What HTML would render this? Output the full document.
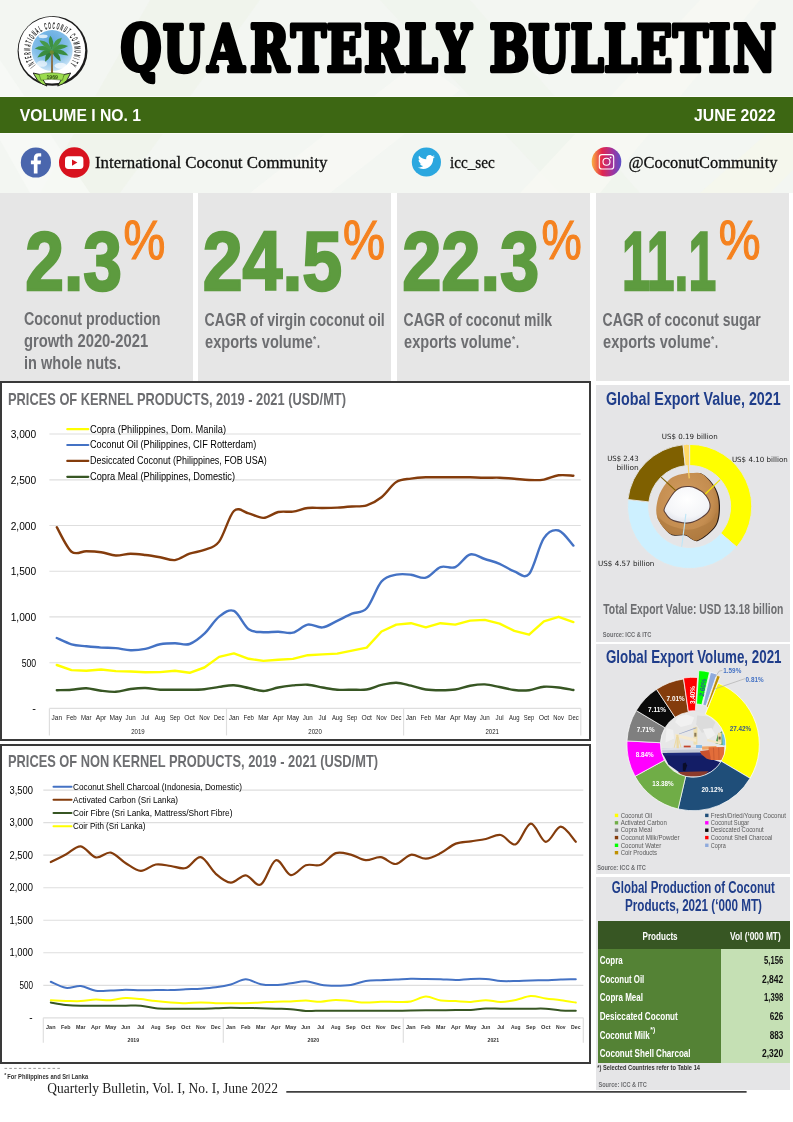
<!DOCTYPE html>
<html lang="en"><head><meta charset="utf-8"><title>Quarterly Bulletin</title>
<style>
html,body{margin:0;padding:0;background:#fff;}
body{width:793px;height:1122px;position:relative;overflow:hidden;font-family:'Liberation Sans', Arial, sans-serif;}
.abs{position:absolute;}
.panel{position:absolute;background:#e6e6e6;}
.chartbox{position:absolute;background:#fff;border:2px solid #3a3a3a;box-sizing:border-box;}
svg text{white-space:pre;}
</style></head><body>
<div class="abs" id="hdr" style="left:0;top:0;width:793px;height:193px;background:#f3f6f2;overflow:hidden"><svg width="793" height="193" viewBox="0 0 793 193" style="position:absolute;left:0;top:0"><polygon points="150,0 260,0 120,193 40,193" fill="#eaf1e3" opacity=".35"/><polygon points="380,0 470,0 640,193 560,193" fill="#eaf1e3" opacity=".3"/><polygon points="520,193 700,0 760,0 600,193" fill="#f7f9f3" opacity=".8"/><polygon points="0,60 90,193 30,193 0,140" fill="#f8faf6" opacity=".8"/><polygon points="250,193 420,60 460,90 330,193" fill="#f8faf5" opacity=".7"/><polygon points="700,193 793,110 793,170 770,193" fill="#f6f9e9" opacity=".6"/></svg></div><svg width="90" height="86" viewBox="10 10 90 86" style="position:absolute;left:10px;top:10px;overflow:visible" ><g transform="translate(12,12) scale(0.10340)"><circle cx="392" cy="376" r="338" fill="#1c1c1c"/><circle cx="386" cy="369" r="322" fill="#fff"/><defs><radialGradient id="sky" cx="0.45" cy="0.3" r="0.8"><stop offset="0" stop-color="#5ea6de"/><stop offset="0.55" stop-color="#86c0ea"/><stop offset="1" stop-color="#e4f1fa"/></radialGradient></defs><circle cx="388" cy="373" r="198" fill="url(#sky)"/><ellipse cx="300" cy="235" rx="45" ry="18" fill="#fff" opacity=".75"/><ellipse cx="470" cy="520" rx="60" ry="28" fill="#fff" opacity=".7"/><ellipse cx="290" cy="500" rx="50" ry="30" fill="#fff" opacity=".6"/><path d="M377,590 L380,400 L394,400 L397,590Z" fill="#8a6a3a"/><path d="M385,372 Q313,382 320,482 Q392,428 385,372Z" fill="#2f7d3a"/><path d="M385,372 Q392,431 470,476 Q463,373 385,372Z" fill="#2f7d3a"/><path d="M385,372 Q296,344 245,440 Q334,424 385,372Z" fill="#3a8c40"/><path d="M385,372 Q452,416 545,420 Q478,332 385,372Z" fill="#3a8c40"/><path d="M385,372 Q308,296 220,352 Q297,384 385,372Z" fill="#3f9444"/><path d="M385,372 Q475,372 542,330 Q452,286 385,372Z" fill="#3f9444"/><path d="M385,372 Q353,267 265,275 Q297,336 385,372Z" fill="#46994a"/><path d="M385,372 Q470,318 482,250 Q397,260 385,372Z" fill="#46994a"/><path d="M385,372 Q419,275 370,230 Q336,283 385,372Z" fill="#3c8f42"/><circle cx="385" cy="390" r="20" fill="#6e8a2f"/><path d="M205,590 L268,604 L338,716 Q285,700 248,662Z" fill="#9bdc4e" stroke="#1c1c1c" stroke-width="9" stroke-linejoin="round"/><path d="M567,590 L505,604 L442,716 Q495,700 530,662Z" fill="#9bdc4e" stroke="#1c1c1c" stroke-width="9" stroke-linejoin="round"/><path d="M262,603 Q385,572 505,603 L488,660 Q385,640 280,660Z" fill="#9bdc4e" stroke="#3d5c1c" stroke-width="5"/></g><defs><path id="ringp" d="M35.67,64.99 A22.0,22.0 0 1 1 69.13,64.99"/></defs><text font-family="'Liberation Sans', Arial, sans-serif" font-size="9.4" font-weight="bold" fill="#222" letter-spacing="2.6"><textPath href="#ringp" startOffset="0" textLength="99" lengthAdjust="spacingAndGlyphs">INTERNATIONAL COCONUT COMMUNITY</textPath></text><text x="52.2" y="78.7" font-family="'Liberation Sans', Arial, sans-serif" font-size="5.8" font-weight="bold" fill="#2f4a14" text-anchor="middle" textLength="11.5" lengthAdjust="spacingAndGlyphs" >1969</text></svg><svg width="683" height="80" viewBox="110 10 683 80" style="position:absolute;left:110px;top:10px;overflow:visible" ><text transform="scale(0.74,1)" x="190.5 248.0 305.4 364.2 416.9 465.5 518.2 568.9 614.2" y="70.7" font-family="'DejaVu Serif', 'Liberation Serif', serif" font-size="63.6" font-weight="bold" fill="#000" stroke="#000" stroke-width="4.6" stroke-linejoin="round" text-anchor="middle">QUARTERLY</text><text transform="scale(0.74,1)" x="688.5 741.9 793.2 838.5 884.5 933.1 972.3 1019.6" y="70.7" font-family="'DejaVu Serif', 'Liberation Serif', serif" font-size="63.6" font-weight="bold" fill="#000" stroke="#000" stroke-width="4.6" stroke-linejoin="round" text-anchor="middle">BULLETIN</text></svg><div class="abs" style="left:0;top:96px;width:793px;height:38px;background:#fbfcfa"></div><div class="abs" style="left:0;top:97px;width:793px;height:36px;background:#3d6713"></div><svg width="793" height="36" viewBox="0 97 793 36" style="position:absolute;left:0px;top:97px;overflow:visible" ><text x="19.7" y="120.6" font-family="'Liberation Sans', Arial, sans-serif" font-size="15.8" font-weight="bold" fill="#fff" text-anchor="start" textLength="121.3" lengthAdjust="spacingAndGlyphs" >VOLUME I NO. 1</text><text x="694.1" y="120.6" font-family="'Liberation Sans', Arial, sans-serif" font-size="15.8" font-weight="bold" fill="#fff" text-anchor="start" textLength="81.5" lengthAdjust="spacingAndGlyphs" >JUNE 2022</text></svg><svg width="793" height="60" viewBox="0 133 793 60" style="position:absolute;left:0px;top:133px;overflow:visible" ><circle cx="35.9" cy="162.5" r="15.1" fill="#4a66ad"/><path transform="translate(36.6,163.4) scale(0.92) translate(-36.6,-163.4)" d="M37.6,174.5 v-10.3 h3.3 l0.5,-3.9 h-3.8 v-2.4 c0,-1.2 0.4,-1.9 2,-1.9 h2 v-3.4 c-0.4,-0.05 -1.6,-0.15 -3,-0.15 c-3,0 -5,1.8 -5,5.1 v2.75 h-3.2 v3.9 h3.2 v10.3 z" fill="#fff"/><circle cx="74.3" cy="162.5" r="15.3" fill="#d8121e"/><rect x="65" y="156.3" width="18.4" height="12.7" rx="3.4" fill="#fff"/><path d="M72,159.4 L77.4,162.6 L72,165.8Z" fill="#d8121e"/><text x="94.9" y="168.4" font-family="'Liberation Serif', 'Times New Roman', serif" font-size="16.5" font-weight="normal" fill="#111" text-anchor="start" textLength="232.5" lengthAdjust="spacingAndGlyphs" stroke="#111" stroke-width="0.3">International Coconut Community</text><circle cx="426.4" cy="162" r="14.6" fill="#2ba7df"/><path transform="translate(417.9,154.6) scale(0.72)" d="M23.6,2.9c-0.9,0.4-1.8,0.7-2.8,0.8c1-0.6,1.8-1.6,2.1-2.7c-0.9,0.6-2,1-3.1,1.2C19,1.2,17.700,0.600,16.300,0.600c-2.700,0-4.800,2.200-4.800,4.800c0,0.400,0,0.800,0.100,1.100C7.600,6.300,4.100,4.400,1.700,1.500C1.300,2.200,1,3,1,3.900c0,1.700,0.900,3.200,2.200,4C2.400,7.900,1.600,7.700,1,7.300c0,0,0,0,0,0.100c0,2.400,1.700,4.300,3.900,4.800c-0.400,0.100-0.800,0.200-1.300,0.200c-0.300,0-0.600,0-0.900-0.100c0.600,1.900,2.400,3.300,4.500,3.400c-1.700,1.300-3.700,2.100-6,2.100c-0.400,0-0.800,0-1.200-0.100c2.100,1.400,4.700,2.200,7.400,2.200c8.900,0,13.800-7.400,13.800-13.800c0-0.200,0-0.400,0-0.600C22.100,4.800,22.900,3.900,23.600,2.900z" fill="#fff"/><text x="450.0" y="168.2" font-family="'Liberation Serif', 'Times New Roman', serif" font-size="16.5" font-weight="normal" fill="#111" text-anchor="start" textLength="44.8" lengthAdjust="spacingAndGlyphs" stroke="#111" stroke-width="0.3">icc_sec</text><defs><linearGradient id="ig" x1="0" y1="0" x2="1" y2="0"><stop offset="0" stop-color="#fbb040"/><stop offset=".35" stop-color="#e2264d"/><stop offset=".7" stop-color="#a0349e"/><stop offset="1" stop-color="#5b51c8"/></linearGradient></defs><circle cx="606.5" cy="161.8" r="14.8" fill="url(#ig)"/><rect x="599.3" y="154.6" width="14.4" height="14.4" rx="2.6" fill="none" stroke="#fff" stroke-width="1.1"/><circle cx="606.5" cy="161.8" r="3.5" fill="none" stroke="#fff" stroke-width="1.1"/><circle cx="610.6" cy="157.6" r="0.9" fill="#fff"/><text x="628.5" y="168.2" font-family="'Liberation Serif', 'Times New Roman', serif" font-size="16.5" font-weight="normal" fill="#111" text-anchor="start" textLength="148.9" lengthAdjust="spacingAndGlyphs" stroke="#111" stroke-width="0.3">@CoconutCommunity</text></svg><div class="panel" style="left:0px;top:193px;width:193.0px;height:187.6px"><svg width="193.0" height="187" viewBox="0 193 193.0 187" style="position:absolute;left:0;top:0;overflow:visible"><text x="25.3" y="290.2" font-family="'Liberation Sans', Arial, sans-serif" font-size="84.2" font-weight="bold" fill="#5d9b3f" text-anchor="start" textLength="96.7" lengthAdjust="spacingAndGlyphs" stroke="#5d9b3f" stroke-width="2.4" stroke-linejoin="miter">2.3</text><text x="123.6" y="258.9" font-family="'Liberation Sans', Arial, sans-serif" font-size="55.2" font-weight="normal" fill="#f5821f" text-anchor="start" textLength="41.8" lengthAdjust="spacingAndGlyphs" stroke="#f5821f" stroke-width="1.2">%</text><text x="24.0" y="324.5" font-family="'Liberation Sans', Arial, sans-serif" font-size="17.6" font-weight="bold" fill="#6d6e71" text-anchor="start" textLength="136.6" lengthAdjust="spacingAndGlyphs" >Coconut production</text><text x="24.0" y="346.5" font-family="'Liberation Sans', Arial, sans-serif" font-size="17.6" font-weight="bold" fill="#6d6e71" text-anchor="start" textLength="124.2" lengthAdjust="spacingAndGlyphs" >growth 2020-2021</text><text x="24.0" y="368.5" font-family="'Liberation Sans', Arial, sans-serif" font-size="17.6" font-weight="bold" fill="#6d6e71" text-anchor="start" textLength="97.0" lengthAdjust="spacingAndGlyphs" >in whole nuts.</text></svg></div><div class="panel" style="left:198px;top:193px;width:193.3px;height:187.6px"><svg width="193.3" height="187" viewBox="198 193 193.3 187" style="position:absolute;left:0;top:0;overflow:visible"><text x="202.7" y="290.2" font-family="'Liberation Sans', Arial, sans-serif" font-size="84.2" font-weight="bold" fill="#5d9b3f" text-anchor="start" textLength="139.5" lengthAdjust="spacingAndGlyphs" stroke="#5d9b3f" stroke-width="2.4" stroke-linejoin="miter">24.5</text><text x="343.1" y="258.9" font-family="'Liberation Sans', Arial, sans-serif" font-size="55.2" font-weight="normal" fill="#f5821f" text-anchor="start" textLength="42.1" lengthAdjust="spacingAndGlyphs" stroke="#f5821f" stroke-width="1.2">%</text><text x="204.6" y="326.2" font-family="'Liberation Sans', Arial, sans-serif" font-size="17.6" font-weight="bold" fill="#6d6e71" text-anchor="start" textLength="180.2" lengthAdjust="spacingAndGlyphs" >CAGR of virgin coconut oil</text><text x="205.1" y="348.2" font-family="'Liberation Sans', Arial, sans-serif" font-size="17.6" font-weight="bold" fill="#6d6e71" text-anchor="start" textLength="107.7" lengthAdjust="spacingAndGlyphs" >exports volume</text><text x="313.1" y="342.2" font-family="'Liberation Sans', Arial, sans-serif" font-size="9" font-weight="bold" fill="#6d6e71" text-anchor="start" textLength="3.2" lengthAdjust="spacingAndGlyphs" >*</text><text x="317.1" y="348.2" font-family="'Liberation Sans', Arial, sans-serif" font-size="17.6" font-weight="bold" fill="#6d6e71" text-anchor="start" textLength="3.0" lengthAdjust="spacingAndGlyphs" >.</text></svg></div><div class="panel" style="left:397px;top:193px;width:192.8px;height:187.6px"><svg width="192.8" height="187" viewBox="397 193 192.8 187" style="position:absolute;left:0;top:0;overflow:visible"><text x="402.2" y="290.2" font-family="'Liberation Sans', Arial, sans-serif" font-size="84.2" font-weight="bold" fill="#5d9b3f" text-anchor="start" textLength="137.0" lengthAdjust="spacingAndGlyphs" stroke="#5d9b3f" stroke-width="2.4" stroke-linejoin="miter">22.3</text><text x="541.6" y="258.9" font-family="'Liberation Sans', Arial, sans-serif" font-size="55.2" font-weight="normal" fill="#f5821f" text-anchor="start" textLength="40.2" lengthAdjust="spacingAndGlyphs" stroke="#f5821f" stroke-width="1.2">%</text><text x="403.6" y="326.2" font-family="'Liberation Sans', Arial, sans-serif" font-size="17.6" font-weight="bold" fill="#6d6e71" text-anchor="start" textLength="148.5" lengthAdjust="spacingAndGlyphs" >CAGR of coconut milk</text><text x="404.1" y="348.2" font-family="'Liberation Sans', Arial, sans-serif" font-size="17.6" font-weight="bold" fill="#6d6e71" text-anchor="start" textLength="107.5" lengthAdjust="spacingAndGlyphs" >exports volume</text><text x="511.9" y="342.2" font-family="'Liberation Sans', Arial, sans-serif" font-size="9" font-weight="bold" fill="#6d6e71" text-anchor="start" textLength="3.2" lengthAdjust="spacingAndGlyphs" >*</text><text x="515.9" y="348.2" font-family="'Liberation Sans', Arial, sans-serif" font-size="17.6" font-weight="bold" fill="#6d6e71" text-anchor="start" textLength="3.0" lengthAdjust="spacingAndGlyphs" >.</text></svg></div><div class="panel" style="left:596px;top:193px;width:193.3px;height:187.6px"><svg width="193.3" height="187" viewBox="596 193 193.3 187" style="position:absolute;left:0;top:0;overflow:visible"><text x="621.9" y="290.2" font-family="'Liberation Sans', Arial, sans-serif" font-size="84.2" font-weight="bold" fill="#5d9b3f" text-anchor="start" textLength="94.3" lengthAdjust="spacingAndGlyphs" stroke="#5d9b3f" stroke-width="2.4" stroke-linejoin="miter">11.1</text><text x="718.7" y="258.9" font-family="'Liberation Sans', Arial, sans-serif" font-size="55.2" font-weight="normal" fill="#f5821f" text-anchor="start" textLength="41.8" lengthAdjust="spacingAndGlyphs" stroke="#f5821f" stroke-width="1.2">%</text><text x="602.6" y="326.2" font-family="'Liberation Sans', Arial, sans-serif" font-size="17.6" font-weight="bold" fill="#6d6e71" text-anchor="start" textLength="158.1" lengthAdjust="spacingAndGlyphs" >CAGR of coconut sugar</text><text x="603.1" y="348.2" font-family="'Liberation Sans', Arial, sans-serif" font-size="17.6" font-weight="bold" fill="#6d6e71" text-anchor="start" textLength="107.7" lengthAdjust="spacingAndGlyphs" >exports volume</text><text x="711.1" y="342.2" font-family="'Liberation Sans', Arial, sans-serif" font-size="9" font-weight="bold" fill="#6d6e71" text-anchor="start" textLength="3.2" lengthAdjust="spacingAndGlyphs" >*</text><text x="715.1" y="348.2" font-family="'Liberation Sans', Arial, sans-serif" font-size="17.6" font-weight="bold" fill="#6d6e71" text-anchor="start" textLength="3.0" lengthAdjust="spacingAndGlyphs" >.</text></svg></div><div class="chartbox" style="left:0;top:381.1px;width:591px;height:360.3px"></div><svg width="592" height="361" viewBox="0 381 592 361" style="position:absolute;left:0px;top:381px;overflow:visible" ><text x="8.0" y="405.3" font-family="'Liberation Sans', Arial, sans-serif" font-size="17" font-weight="bold" fill="#6d6e71" text-anchor="start" textLength="338.0" lengthAdjust="spacingAndGlyphs" >PRICES OF KERNEL PRODUCTS, 2019 - 2021 (USD/MT)</text><line x1="49.4" x2="580.8" y1="434.0" y2="434.0" stroke="#dedede" stroke-width="1.15"/><text x="10.7" y="438.0" font-family="'Liberation Sans', Arial, sans-serif" font-size="11" font-weight="normal" fill="#000" text-anchor="start" textLength="25.5" lengthAdjust="spacingAndGlyphs" >3,000</text><line x1="49.4" x2="580.8" y1="479.8" y2="479.8" stroke="#dedede" stroke-width="1.15"/><text x="10.7" y="483.8" font-family="'Liberation Sans', Arial, sans-serif" font-size="11" font-weight="normal" fill="#000" text-anchor="start" textLength="25.5" lengthAdjust="spacingAndGlyphs" >2,500</text><line x1="49.4" x2="580.8" y1="525.5" y2="525.5" stroke="#dedede" stroke-width="1.15"/><text x="10.7" y="529.5" font-family="'Liberation Sans', Arial, sans-serif" font-size="11" font-weight="normal" fill="#000" text-anchor="start" textLength="25.5" lengthAdjust="spacingAndGlyphs" >2,000</text><line x1="49.4" x2="580.8" y1="571.2" y2="571.2" stroke="#dedede" stroke-width="1.15"/><text x="10.7" y="575.2" font-family="'Liberation Sans', Arial, sans-serif" font-size="11" font-weight="normal" fill="#000" text-anchor="start" textLength="25.5" lengthAdjust="spacingAndGlyphs" >1,500</text><line x1="49.4" x2="580.8" y1="616.9" y2="616.9" stroke="#dedede" stroke-width="1.15"/><text x="10.7" y="620.9" font-family="'Liberation Sans', Arial, sans-serif" font-size="11" font-weight="normal" fill="#000" text-anchor="start" textLength="25.5" lengthAdjust="spacingAndGlyphs" >1,000</text><line x1="49.4" x2="580.8" y1="662.7" y2="662.7" stroke="#dedede" stroke-width="1.15"/><text x="21.7" y="666.7" font-family="'Liberation Sans', Arial, sans-serif" font-size="11" font-weight="normal" fill="#000" text-anchor="start" textLength="14.5" lengthAdjust="spacingAndGlyphs" >500</text><line x1="49.4" x2="580.8" y1="708.4" y2="708.4" stroke="#dedede" stroke-width="1.15"/><text x="36.0" y="711.9" font-family="'Liberation Sans', Arial, sans-serif" font-size="11" font-weight="normal" fill="#000" text-anchor="end" >-</text><line x1="49.4" x2="49.4" y1="708.4" y2="735.4" stroke="#dedede" stroke-width="1.15"/><line x1="226.5" x2="226.5" y1="708.4" y2="735.4" stroke="#dedede" stroke-width="1.15"/><line x1="403.6" x2="403.6" y1="708.4" y2="735.4" stroke="#dedede" stroke-width="1.15"/><line x1="580.8" x2="580.8" y1="708.4" y2="735.4" stroke="#dedede" stroke-width="1.15"/><text x="56.8" y="720.3" font-family="'Liberation Sans', Arial, sans-serif" font-size="7.4" font-weight="normal" fill="#222" text-anchor="middle" textLength="10.5" lengthAdjust="spacingAndGlyphs" >Jan</text><text x="71.5" y="720.3" font-family="'Liberation Sans', Arial, sans-serif" font-size="7.4" font-weight="normal" fill="#222" text-anchor="middle" textLength="10.5" lengthAdjust="spacingAndGlyphs" >Feb</text><text x="86.3" y="720.3" font-family="'Liberation Sans', Arial, sans-serif" font-size="7.4" font-weight="normal" fill="#222" text-anchor="middle" textLength="10.5" lengthAdjust="spacingAndGlyphs" >Mar</text><text x="101.1" y="720.3" font-family="'Liberation Sans', Arial, sans-serif" font-size="7.4" font-weight="normal" fill="#222" text-anchor="middle" textLength="10.5" lengthAdjust="spacingAndGlyphs" >Apr</text><text x="115.8" y="720.3" font-family="'Liberation Sans', Arial, sans-serif" font-size="7.4" font-weight="normal" fill="#222" text-anchor="middle" textLength="12.5" lengthAdjust="spacingAndGlyphs" >May</text><text x="130.6" y="720.3" font-family="'Liberation Sans', Arial, sans-serif" font-size="7.4" font-weight="normal" fill="#222" text-anchor="middle" textLength="10.0" lengthAdjust="spacingAndGlyphs" >Jun</text><text x="145.3" y="720.3" font-family="'Liberation Sans', Arial, sans-serif" font-size="7.4" font-weight="normal" fill="#222" text-anchor="middle" textLength="8.0" lengthAdjust="spacingAndGlyphs" >Jul</text><text x="160.1" y="720.3" font-family="'Liberation Sans', Arial, sans-serif" font-size="7.4" font-weight="normal" fill="#222" text-anchor="middle" textLength="10.5" lengthAdjust="spacingAndGlyphs" >Aug</text><text x="174.9" y="720.3" font-family="'Liberation Sans', Arial, sans-serif" font-size="7.4" font-weight="normal" fill="#222" text-anchor="middle" textLength="10.5" lengthAdjust="spacingAndGlyphs" >Sep</text><text x="189.6" y="720.3" font-family="'Liberation Sans', Arial, sans-serif" font-size="7.4" font-weight="normal" fill="#222" text-anchor="middle" textLength="10.5" lengthAdjust="spacingAndGlyphs" >Oct</text><text x="204.4" y="720.3" font-family="'Liberation Sans', Arial, sans-serif" font-size="7.4" font-weight="normal" fill="#222" text-anchor="middle" textLength="10.5" lengthAdjust="spacingAndGlyphs" >Nov</text><text x="219.1" y="720.3" font-family="'Liberation Sans', Arial, sans-serif" font-size="7.4" font-weight="normal" fill="#222" text-anchor="middle" textLength="10.5" lengthAdjust="spacingAndGlyphs" >Dec</text><text x="233.9" y="720.3" font-family="'Liberation Sans', Arial, sans-serif" font-size="7.4" font-weight="normal" fill="#222" text-anchor="middle" textLength="10.5" lengthAdjust="spacingAndGlyphs" >Jan</text><text x="248.7" y="720.3" font-family="'Liberation Sans', Arial, sans-serif" font-size="7.4" font-weight="normal" fill="#222" text-anchor="middle" textLength="10.5" lengthAdjust="spacingAndGlyphs" >Feb</text><text x="263.4" y="720.3" font-family="'Liberation Sans', Arial, sans-serif" font-size="7.4" font-weight="normal" fill="#222" text-anchor="middle" textLength="10.5" lengthAdjust="spacingAndGlyphs" >Mar</text><text x="278.2" y="720.3" font-family="'Liberation Sans', Arial, sans-serif" font-size="7.4" font-weight="normal" fill="#222" text-anchor="middle" textLength="10.5" lengthAdjust="spacingAndGlyphs" >Apr</text><text x="292.9" y="720.3" font-family="'Liberation Sans', Arial, sans-serif" font-size="7.4" font-weight="normal" fill="#222" text-anchor="middle" textLength="12.5" lengthAdjust="spacingAndGlyphs" >May</text><text x="307.7" y="720.3" font-family="'Liberation Sans', Arial, sans-serif" font-size="7.4" font-weight="normal" fill="#222" text-anchor="middle" textLength="10.0" lengthAdjust="spacingAndGlyphs" >Jun</text><text x="322.5" y="720.3" font-family="'Liberation Sans', Arial, sans-serif" font-size="7.4" font-weight="normal" fill="#222" text-anchor="middle" textLength="8.0" lengthAdjust="spacingAndGlyphs" >Jul</text><text x="337.2" y="720.3" font-family="'Liberation Sans', Arial, sans-serif" font-size="7.4" font-weight="normal" fill="#222" text-anchor="middle" textLength="10.5" lengthAdjust="spacingAndGlyphs" >Aug</text><text x="352.0" y="720.3" font-family="'Liberation Sans', Arial, sans-serif" font-size="7.4" font-weight="normal" fill="#222" text-anchor="middle" textLength="10.5" lengthAdjust="spacingAndGlyphs" >Sep</text><text x="366.7" y="720.3" font-family="'Liberation Sans', Arial, sans-serif" font-size="7.4" font-weight="normal" fill="#222" text-anchor="middle" textLength="10.5" lengthAdjust="spacingAndGlyphs" >Oct</text><text x="381.5" y="720.3" font-family="'Liberation Sans', Arial, sans-serif" font-size="7.4" font-weight="normal" fill="#222" text-anchor="middle" textLength="10.5" lengthAdjust="spacingAndGlyphs" >Nov</text><text x="396.3" y="720.3" font-family="'Liberation Sans', Arial, sans-serif" font-size="7.4" font-weight="normal" fill="#222" text-anchor="middle" textLength="10.5" lengthAdjust="spacingAndGlyphs" >Dec</text><text x="411.0" y="720.3" font-family="'Liberation Sans', Arial, sans-serif" font-size="7.4" font-weight="normal" fill="#222" text-anchor="middle" textLength="10.5" lengthAdjust="spacingAndGlyphs" >Jan</text><text x="425.8" y="720.3" font-family="'Liberation Sans', Arial, sans-serif" font-size="7.4" font-weight="normal" fill="#222" text-anchor="middle" textLength="10.5" lengthAdjust="spacingAndGlyphs" >Feb</text><text x="440.5" y="720.3" font-family="'Liberation Sans', Arial, sans-serif" font-size="7.4" font-weight="normal" fill="#222" text-anchor="middle" textLength="10.5" lengthAdjust="spacingAndGlyphs" >Mar</text><text x="455.3" y="720.3" font-family="'Liberation Sans', Arial, sans-serif" font-size="7.4" font-weight="normal" fill="#222" text-anchor="middle" textLength="10.5" lengthAdjust="spacingAndGlyphs" >Apr</text><text x="470.1" y="720.3" font-family="'Liberation Sans', Arial, sans-serif" font-size="7.4" font-weight="normal" fill="#222" text-anchor="middle" textLength="12.5" lengthAdjust="spacingAndGlyphs" >May</text><text x="484.8" y="720.3" font-family="'Liberation Sans', Arial, sans-serif" font-size="7.4" font-weight="normal" fill="#222" text-anchor="middle" textLength="10.0" lengthAdjust="spacingAndGlyphs" >Jun</text><text x="499.6" y="720.3" font-family="'Liberation Sans', Arial, sans-serif" font-size="7.4" font-weight="normal" fill="#222" text-anchor="middle" textLength="8.0" lengthAdjust="spacingAndGlyphs" >Jul</text><text x="514.3" y="720.3" font-family="'Liberation Sans', Arial, sans-serif" font-size="7.4" font-weight="normal" fill="#222" text-anchor="middle" textLength="10.5" lengthAdjust="spacingAndGlyphs" >Aug</text><text x="529.1" y="720.3" font-family="'Liberation Sans', Arial, sans-serif" font-size="7.4" font-weight="normal" fill="#222" text-anchor="middle" textLength="10.5" lengthAdjust="spacingAndGlyphs" >Sep</text><text x="543.9" y="720.3" font-family="'Liberation Sans', Arial, sans-serif" font-size="7.4" font-weight="normal" fill="#222" text-anchor="middle" textLength="10.5" lengthAdjust="spacingAndGlyphs" >Oct</text><text x="558.6" y="720.3" font-family="'Liberation Sans', Arial, sans-serif" font-size="7.4" font-weight="normal" fill="#222" text-anchor="middle" textLength="10.5" lengthAdjust="spacingAndGlyphs" >Nov</text><text x="573.4" y="720.3" font-family="'Liberation Sans', Arial, sans-serif" font-size="7.4" font-weight="normal" fill="#222" text-anchor="middle" textLength="10.5" lengthAdjust="spacingAndGlyphs" >Dec</text><text x="138.0" y="733.7" font-family="'Liberation Sans', Arial, sans-serif" font-size="7.4" font-weight="normal" fill="#222" text-anchor="middle" textLength="13.5" lengthAdjust="spacingAndGlyphs" >2019</text><text x="315.1" y="733.7" font-family="'Liberation Sans', Arial, sans-serif" font-size="7.4" font-weight="normal" fill="#222" text-anchor="middle" textLength="13.5" lengthAdjust="spacingAndGlyphs" >2020</text><text x="492.2" y="733.7" font-family="'Liberation Sans', Arial, sans-serif" font-size="7.4" font-weight="normal" fill="#222" text-anchor="middle" textLength="13.5" lengthAdjust="spacingAndGlyphs" >2021</text><path d="M56.8,665.0L71.5,670.1L86.3,670.8L101.1,669.5L115.8,671.1L130.6,671.5L145.3,672.3L160.1,672.1L174.9,670.8L189.6,672.8L204.4,667.5L219.1,656.9L233.9,653.4L248.7,658.8L263.4,660.9L278.2,659.7L292.9,658.9L307.7,655.2L322.5,654.4L337.2,653.6L352.0,650.6L366.7,647.6L381.5,631.5L396.3,624.6L411.0,623.2L425.8,627.4L440.5,623.2L455.3,624.6L470.1,620.6L484.8,619.9L499.6,623.6L514.3,630.9L529.1,634.7L543.9,621.3L558.6,616.8L573.4,622.1" fill="none" stroke="#ffff00" stroke-width="2.4" stroke-linecap="round" stroke-linejoin="round"/><path d="M56.8,638.0C59.2,639.0 66.6,642.9 71.5,644.3C76.5,645.7 81.4,645.7 86.3,646.3C91.2,646.8 96.1,647.3 101.1,647.6C106.0,647.9 110.9,647.7 115.8,648.1C120.7,648.6 125.7,650.2 130.6,650.3C135.5,650.4 140.4,649.9 145.3,648.9C150.3,647.9 155.2,645.2 160.1,644.3C165.0,643.4 169.9,643.3 174.9,643.3C179.8,643.2 184.7,645.6 189.6,644.0C194.5,642.4 199.5,638.3 204.4,633.7C209.3,629.1 214.2,620.4 219.1,616.6C224.1,612.8 229.0,608.8 233.9,610.9C238.8,613.0 243.7,625.6 248.7,629.2C253.6,632.7 258.5,631.8 263.4,632.2C268.3,632.6 273.3,631.6 278.2,631.7C283.1,631.7 288.0,633.8 292.9,632.7C297.9,631.5 302.8,625.5 307.7,624.6C312.6,623.7 317.5,628.0 322.5,627.4C327.4,626.7 332.3,623.1 337.2,620.9C342.1,618.6 347.1,615.8 352.0,613.7C356.9,611.6 361.8,613.6 366.7,608.3C371.7,602.9 376.6,587.0 381.5,581.5C386.4,575.9 391.3,575.8 396.3,574.7C401.2,573.6 406.1,574.2 411.0,574.7C415.9,575.2 420.9,579.0 425.8,577.7C430.7,576.4 435.6,568.9 440.5,567.1C445.5,565.3 450.4,569.2 455.3,567.1C460.2,565.0 465.1,555.8 470.1,554.5C475.0,553.1 479.9,557.5 484.8,559.0C489.7,560.6 494.7,561.7 499.6,563.8C504.5,565.9 509.4,569.7 514.3,571.4C519.3,573.1 524.2,579.5 529.1,574.0C534.0,568.4 538.9,545.3 543.9,538.1C548.8,530.9 553.7,529.3 558.6,530.5C563.5,531.8 570.9,543.1 573.4,545.6" fill="none" stroke="#4472c4" stroke-width="2.4" stroke-linecap="round" stroke-linejoin="round"/><path d="M56.8,527.2C59.2,531.3 66.6,547.7 71.5,551.7C76.5,555.7 81.4,551.1 86.3,551.2C91.2,551.3 96.1,551.5 101.1,552.2C106.0,552.9 110.9,555.2 115.8,555.5C120.7,555.7 125.7,553.8 130.6,553.7C135.5,553.7 140.4,554.4 145.3,555.0C150.3,555.6 155.2,556.4 160.1,557.2C165.0,558.1 169.9,560.6 174.9,560.1C179.8,559.5 184.7,555.4 189.6,553.7C194.5,552.0 199.5,551.9 204.4,549.9C209.3,547.9 214.2,548.1 219.1,541.6C224.1,535.1 229.0,515.7 233.9,511.0C238.8,506.3 243.7,512.3 248.7,513.4C253.6,514.6 258.5,518.1 263.4,517.9C268.3,517.7 273.3,513.1 278.2,512.0C283.1,511.0 288.0,512.2 292.9,511.6C297.9,510.9 302.8,508.6 307.7,508.0C312.6,507.4 317.5,508.1 322.5,508.0C327.4,507.9 332.3,507.8 337.2,507.6C342.1,507.3 347.1,506.9 352.0,506.5C356.9,506.2 361.8,506.8 366.7,505.3C371.7,503.7 376.6,501.1 381.5,497.2C386.4,493.3 391.3,485.1 396.3,482.0C401.2,478.9 406.1,479.4 411.0,478.6C415.9,477.8 420.9,477.5 425.8,477.3C430.7,477.1 435.6,477.3 440.5,477.3C445.5,477.3 450.4,477.3 455.3,477.3C460.2,477.3 465.1,477.2 470.1,477.3C475.0,477.4 479.9,477.7 484.8,477.7C489.7,477.8 494.7,477.6 499.6,477.7C504.5,477.9 509.4,478.4 514.3,478.7C519.3,479.1 524.2,479.9 529.1,480.0C534.0,480.2 538.9,480.4 543.9,479.6C548.8,478.8 553.7,475.9 558.6,475.3C563.5,474.6 570.9,475.6 573.4,475.7" fill="none" stroke="#843c0c" stroke-width="2.4" stroke-linecap="round" stroke-linejoin="round"/><path d="M56.8,690.2C59.2,690.1 66.6,690.1 71.5,689.7C76.5,689.4 81.4,688.0 86.3,688.2C91.2,688.4 96.1,690.2 101.1,690.7C106.0,691.3 110.9,692.0 115.8,691.8C120.7,691.5 125.7,689.6 130.6,689.0C135.5,688.4 140.4,687.9 145.3,688.0C150.3,688.1 155.2,689.5 160.1,689.7C165.0,690.0 169.9,689.7 174.9,689.7C179.8,689.7 184.7,689.8 189.6,689.7C194.5,689.7 199.5,689.7 204.4,689.2C209.3,688.7 214.2,687.6 219.1,686.9C224.1,686.2 229.0,685.0 233.9,685.2C238.8,685.4 243.7,687.0 248.7,688.0C253.6,689.0 258.5,691.1 263.4,691.0C268.3,690.9 273.3,688.4 278.2,687.5C283.1,686.5 288.0,685.9 292.9,685.4C297.9,685.0 302.8,684.4 307.7,684.7C312.6,685.0 317.5,686.6 322.5,687.5C327.4,688.3 332.3,689.4 337.2,689.7C342.1,690.1 347.1,689.8 352.0,689.7C356.9,689.7 361.8,690.3 366.7,689.5C371.7,688.7 376.6,686.0 381.5,684.9C386.4,683.8 391.3,682.6 396.3,682.7C401.2,682.8 406.1,684.6 411.0,685.7C415.9,686.8 420.9,688.7 425.8,689.5C430.7,690.2 435.6,690.2 440.5,690.2C445.5,690.2 450.4,690.2 455.3,689.5C460.2,688.7 465.1,686.6 470.1,685.7C475.0,684.9 479.9,684.2 484.8,684.4C489.7,684.7 494.7,686.1 499.6,687.0C504.5,687.9 509.4,689.5 514.3,690.0C519.3,690.6 524.2,690.7 529.1,690.2C534.0,689.7 538.9,687.2 543.9,686.7C548.8,686.3 553.7,686.9 558.6,687.5C563.5,688.0 570.9,689.6 573.4,690.0" fill="none" stroke="#375623" stroke-width="2.4" stroke-linecap="round" stroke-linejoin="round"/><line x1="67.3" x2="88.3" y1="429.2" y2="429.2" stroke="#ffff00" stroke-width="2.2" stroke-linecap="round"/><text x="90.0" y="432.6" font-family="'Liberation Sans', Arial, sans-serif" font-size="10" font-weight="normal" fill="#000" text-anchor="start" textLength="136.0" lengthAdjust="spacingAndGlyphs" >Copra (Philippines, Dom. Manila)</text><line x1="67.3" x2="88.3" y1="445.0" y2="445.0" stroke="#4472c4" stroke-width="2.2" stroke-linecap="round"/><text x="90.0" y="448.4" font-family="'Liberation Sans', Arial, sans-serif" font-size="10" font-weight="normal" fill="#000" text-anchor="start" textLength="166.2" lengthAdjust="spacingAndGlyphs" >Coconut Oil (Philippines, CIF Rotterdam)</text><line x1="67.3" x2="88.3" y1="460.9" y2="460.9" stroke="#843c0c" stroke-width="2.2" stroke-linecap="round"/><text x="90.0" y="464.3" font-family="'Liberation Sans', Arial, sans-serif" font-size="10" font-weight="normal" fill="#000" text-anchor="start" textLength="176.8" lengthAdjust="spacingAndGlyphs" >Desiccated Coconut (Philippines, FOB USA)</text><line x1="67.3" x2="88.3" y1="476.8" y2="476.8" stroke="#375623" stroke-width="2.2" stroke-linecap="round"/><text x="90.0" y="480.2" font-family="'Liberation Sans', Arial, sans-serif" font-size="10" font-weight="normal" fill="#000" text-anchor="start" textLength="145.0" lengthAdjust="spacingAndGlyphs" >Copra Meal (Philippines, Domestic)</text></svg><div class="chartbox" style="left:0;top:743.6px;width:591px;height:320px"></div><svg width="592" height="322" viewBox="0 743 592 322" style="position:absolute;left:0px;top:743px;overflow:visible" ><text x="8.0" y="767.3" font-family="'Liberation Sans', Arial, sans-serif" font-size="17" font-weight="bold" fill="#6d6e71" text-anchor="start" textLength="370.0" lengthAdjust="spacingAndGlyphs" >PRICES OF NON KERNEL PRODUCTS, 2019 - 2021 (USD/MT)</text><line x1="43.3" x2="583.3" y1="790.1" y2="790.1" stroke="#dedede" stroke-width="1.15"/><text x="9.5" y="793.7" font-family="'Liberation Sans', Arial, sans-serif" font-size="10" font-weight="normal" fill="#000" text-anchor="start" textLength="23.5" lengthAdjust="spacingAndGlyphs" >3,500</text><line x1="43.3" x2="583.3" y1="822.6" y2="822.6" stroke="#dedede" stroke-width="1.15"/><text x="9.5" y="826.2" font-family="'Liberation Sans', Arial, sans-serif" font-size="10" font-weight="normal" fill="#000" text-anchor="start" textLength="23.5" lengthAdjust="spacingAndGlyphs" >3,000</text><line x1="43.3" x2="583.3" y1="855.1" y2="855.1" stroke="#dedede" stroke-width="1.15"/><text x="9.5" y="858.8" font-family="'Liberation Sans', Arial, sans-serif" font-size="10" font-weight="normal" fill="#000" text-anchor="start" textLength="23.5" lengthAdjust="spacingAndGlyphs" >2,500</text><line x1="43.3" x2="583.3" y1="887.7" y2="887.7" stroke="#dedede" stroke-width="1.15"/><text x="9.5" y="891.3" font-family="'Liberation Sans', Arial, sans-serif" font-size="10" font-weight="normal" fill="#000" text-anchor="start" textLength="23.5" lengthAdjust="spacingAndGlyphs" >2,000</text><line x1="43.3" x2="583.3" y1="920.2" y2="920.2" stroke="#dedede" stroke-width="1.15"/><text x="9.5" y="923.8" font-family="'Liberation Sans', Arial, sans-serif" font-size="10" font-weight="normal" fill="#000" text-anchor="start" textLength="23.5" lengthAdjust="spacingAndGlyphs" >1,500</text><line x1="43.3" x2="583.3" y1="952.7" y2="952.7" stroke="#dedede" stroke-width="1.15"/><text x="9.5" y="956.3" font-family="'Liberation Sans', Arial, sans-serif" font-size="10" font-weight="normal" fill="#000" text-anchor="start" textLength="23.5" lengthAdjust="spacingAndGlyphs" >1,000</text><line x1="43.3" x2="583.3" y1="985.3" y2="985.3" stroke="#dedede" stroke-width="1.15"/><text x="19.5" y="988.9" font-family="'Liberation Sans', Arial, sans-serif" font-size="10" font-weight="normal" fill="#000" text-anchor="start" textLength="13.5" lengthAdjust="spacingAndGlyphs" >500</text><line x1="43.3" x2="583.3" y1="1017.8" y2="1017.8" stroke="#dedede" stroke-width="1.15"/><text x="32.5" y="1021.0" font-family="'Liberation Sans', Arial, sans-serif" font-size="10" font-weight="normal" fill="#000" text-anchor="end" >-</text><line x1="43.3" x2="43.3" y1="1017.8" y2="1042.8" stroke="#dedede" stroke-width="1.15"/><line x1="223.3" x2="223.3" y1="1017.8" y2="1042.8" stroke="#dedede" stroke-width="1.15"/><line x1="403.3" x2="403.3" y1="1017.8" y2="1042.8" stroke="#dedede" stroke-width="1.15"/><line x1="583.3" x2="583.3" y1="1017.8" y2="1042.8" stroke="#dedede" stroke-width="1.15"/><text x="50.8" y="1029.2" font-family="'Liberation Sans', Arial, sans-serif" font-size="6.2" font-weight="bold" fill="#333" text-anchor="middle" textLength="9.5" lengthAdjust="spacingAndGlyphs" >Jan</text><text x="65.8" y="1029.2" font-family="'Liberation Sans', Arial, sans-serif" font-size="6.2" font-weight="bold" fill="#333" text-anchor="middle" textLength="9.5" lengthAdjust="spacingAndGlyphs" >Feb</text><text x="80.8" y="1029.2" font-family="'Liberation Sans', Arial, sans-serif" font-size="6.2" font-weight="bold" fill="#333" text-anchor="middle" textLength="9.5" lengthAdjust="spacingAndGlyphs" >Mar</text><text x="95.8" y="1029.2" font-family="'Liberation Sans', Arial, sans-serif" font-size="6.2" font-weight="bold" fill="#333" text-anchor="middle" textLength="9.5" lengthAdjust="spacingAndGlyphs" >Apr</text><text x="110.8" y="1029.2" font-family="'Liberation Sans', Arial, sans-serif" font-size="6.2" font-weight="bold" fill="#333" text-anchor="middle" textLength="11.0" lengthAdjust="spacingAndGlyphs" >May</text><text x="125.8" y="1029.2" font-family="'Liberation Sans', Arial, sans-serif" font-size="6.2" font-weight="bold" fill="#333" text-anchor="middle" textLength="9.0" lengthAdjust="spacingAndGlyphs" >Jun</text><text x="140.8" y="1029.2" font-family="'Liberation Sans', Arial, sans-serif" font-size="6.2" font-weight="bold" fill="#333" text-anchor="middle" textLength="7.0" lengthAdjust="spacingAndGlyphs" >Jul</text><text x="155.8" y="1029.2" font-family="'Liberation Sans', Arial, sans-serif" font-size="6.2" font-weight="bold" fill="#333" text-anchor="middle" textLength="9.5" lengthAdjust="spacingAndGlyphs" >Aug</text><text x="170.8" y="1029.2" font-family="'Liberation Sans', Arial, sans-serif" font-size="6.2" font-weight="bold" fill="#333" text-anchor="middle" textLength="9.5" lengthAdjust="spacingAndGlyphs" >Sep</text><text x="185.8" y="1029.2" font-family="'Liberation Sans', Arial, sans-serif" font-size="6.2" font-weight="bold" fill="#333" text-anchor="middle" textLength="9.5" lengthAdjust="spacingAndGlyphs" >Oct</text><text x="200.8" y="1029.2" font-family="'Liberation Sans', Arial, sans-serif" font-size="6.2" font-weight="bold" fill="#333" text-anchor="middle" textLength="9.5" lengthAdjust="spacingAndGlyphs" >Nov</text><text x="215.8" y="1029.2" font-family="'Liberation Sans', Arial, sans-serif" font-size="6.2" font-weight="bold" fill="#333" text-anchor="middle" textLength="9.5" lengthAdjust="spacingAndGlyphs" >Dec</text><text x="230.8" y="1029.2" font-family="'Liberation Sans', Arial, sans-serif" font-size="6.2" font-weight="bold" fill="#333" text-anchor="middle" textLength="9.5" lengthAdjust="spacingAndGlyphs" >Jan</text><text x="245.8" y="1029.2" font-family="'Liberation Sans', Arial, sans-serif" font-size="6.2" font-weight="bold" fill="#333" text-anchor="middle" textLength="9.5" lengthAdjust="spacingAndGlyphs" >Feb</text><text x="260.8" y="1029.2" font-family="'Liberation Sans', Arial, sans-serif" font-size="6.2" font-weight="bold" fill="#333" text-anchor="middle" textLength="9.5" lengthAdjust="spacingAndGlyphs" >Mar</text><text x="275.8" y="1029.2" font-family="'Liberation Sans', Arial, sans-serif" font-size="6.2" font-weight="bold" fill="#333" text-anchor="middle" textLength="9.5" lengthAdjust="spacingAndGlyphs" >Apr</text><text x="290.8" y="1029.2" font-family="'Liberation Sans', Arial, sans-serif" font-size="6.2" font-weight="bold" fill="#333" text-anchor="middle" textLength="11.0" lengthAdjust="spacingAndGlyphs" >May</text><text x="305.8" y="1029.2" font-family="'Liberation Sans', Arial, sans-serif" font-size="6.2" font-weight="bold" fill="#333" text-anchor="middle" textLength="9.0" lengthAdjust="spacingAndGlyphs" >Jun</text><text x="320.8" y="1029.2" font-family="'Liberation Sans', Arial, sans-serif" font-size="6.2" font-weight="bold" fill="#333" text-anchor="middle" textLength="7.0" lengthAdjust="spacingAndGlyphs" >Jul</text><text x="335.8" y="1029.2" font-family="'Liberation Sans', Arial, sans-serif" font-size="6.2" font-weight="bold" fill="#333" text-anchor="middle" textLength="9.5" lengthAdjust="spacingAndGlyphs" >Aug</text><text x="350.8" y="1029.2" font-family="'Liberation Sans', Arial, sans-serif" font-size="6.2" font-weight="bold" fill="#333" text-anchor="middle" textLength="9.5" lengthAdjust="spacingAndGlyphs" >Sep</text><text x="365.8" y="1029.2" font-family="'Liberation Sans', Arial, sans-serif" font-size="6.2" font-weight="bold" fill="#333" text-anchor="middle" textLength="9.5" lengthAdjust="spacingAndGlyphs" >Oct</text><text x="380.8" y="1029.2" font-family="'Liberation Sans', Arial, sans-serif" font-size="6.2" font-weight="bold" fill="#333" text-anchor="middle" textLength="9.5" lengthAdjust="spacingAndGlyphs" >Nov</text><text x="395.8" y="1029.2" font-family="'Liberation Sans', Arial, sans-serif" font-size="6.2" font-weight="bold" fill="#333" text-anchor="middle" textLength="9.5" lengthAdjust="spacingAndGlyphs" >Dec</text><text x="410.8" y="1029.2" font-family="'Liberation Sans', Arial, sans-serif" font-size="6.2" font-weight="bold" fill="#333" text-anchor="middle" textLength="9.5" lengthAdjust="spacingAndGlyphs" >Jan</text><text x="425.8" y="1029.2" font-family="'Liberation Sans', Arial, sans-serif" font-size="6.2" font-weight="bold" fill="#333" text-anchor="middle" textLength="9.5" lengthAdjust="spacingAndGlyphs" >Feb</text><text x="440.8" y="1029.2" font-family="'Liberation Sans', Arial, sans-serif" font-size="6.2" font-weight="bold" fill="#333" text-anchor="middle" textLength="9.5" lengthAdjust="spacingAndGlyphs" >Mar</text><text x="455.8" y="1029.2" font-family="'Liberation Sans', Arial, sans-serif" font-size="6.2" font-weight="bold" fill="#333" text-anchor="middle" textLength="9.5" lengthAdjust="spacingAndGlyphs" >Apr</text><text x="470.8" y="1029.2" font-family="'Liberation Sans', Arial, sans-serif" font-size="6.2" font-weight="bold" fill="#333" text-anchor="middle" textLength="11.0" lengthAdjust="spacingAndGlyphs" >May</text><text x="485.8" y="1029.2" font-family="'Liberation Sans', Arial, sans-serif" font-size="6.2" font-weight="bold" fill="#333" text-anchor="middle" textLength="9.0" lengthAdjust="spacingAndGlyphs" >Jun</text><text x="500.8" y="1029.2" font-family="'Liberation Sans', Arial, sans-serif" font-size="6.2" font-weight="bold" fill="#333" text-anchor="middle" textLength="7.0" lengthAdjust="spacingAndGlyphs" >Jul</text><text x="515.8" y="1029.2" font-family="'Liberation Sans', Arial, sans-serif" font-size="6.2" font-weight="bold" fill="#333" text-anchor="middle" textLength="9.5" lengthAdjust="spacingAndGlyphs" >Aug</text><text x="530.8" y="1029.2" font-family="'Liberation Sans', Arial, sans-serif" font-size="6.2" font-weight="bold" fill="#333" text-anchor="middle" textLength="9.5" lengthAdjust="spacingAndGlyphs" >Sep</text><text x="545.8" y="1029.2" font-family="'Liberation Sans', Arial, sans-serif" font-size="6.2" font-weight="bold" fill="#333" text-anchor="middle" textLength="9.5" lengthAdjust="spacingAndGlyphs" >Oct</text><text x="560.8" y="1029.2" font-family="'Liberation Sans', Arial, sans-serif" font-size="6.2" font-weight="bold" fill="#333" text-anchor="middle" textLength="9.5" lengthAdjust="spacingAndGlyphs" >Nov</text><text x="575.8" y="1029.2" font-family="'Liberation Sans', Arial, sans-serif" font-size="6.2" font-weight="bold" fill="#333" text-anchor="middle" textLength="9.5" lengthAdjust="spacingAndGlyphs" >Dec</text><text x="133.3" y="1041.5" font-family="'Liberation Sans', Arial, sans-serif" font-size="6.2" font-weight="bold" fill="#333" text-anchor="middle" textLength="11.5" lengthAdjust="spacingAndGlyphs" >2019</text><text x="313.3" y="1041.5" font-family="'Liberation Sans', Arial, sans-serif" font-size="6.2" font-weight="bold" fill="#333" text-anchor="middle" textLength="11.5" lengthAdjust="spacingAndGlyphs" >2020</text><text x="493.3" y="1041.5" font-family="'Liberation Sans', Arial, sans-serif" font-size="6.2" font-weight="bold" fill="#333" text-anchor="middle" textLength="11.5" lengthAdjust="spacingAndGlyphs" >2021</text><path d="M50.8,981.8C53.3,982.8 60.8,987.1 65.8,987.8C70.8,988.5 75.8,985.6 80.8,986.1C85.8,986.5 90.8,990.1 95.8,990.8C100.8,991.5 105.8,990.7 110.8,990.5C115.8,990.4 120.8,989.9 125.8,989.8C130.8,989.8 135.8,990.3 140.8,990.3C145.8,990.4 150.8,990.1 155.8,990.1C160.8,990.0 165.8,990.2 170.8,990.1C175.8,990.0 180.8,989.5 185.8,989.3C190.8,989.1 195.8,989.1 200.8,988.8C205.8,988.4 210.8,988.0 215.8,987.3C220.8,986.6 225.8,985.8 230.8,984.5C235.8,983.1 240.8,979.3 245.8,979.2C250.8,979.2 255.8,983.3 260.8,984.2C265.8,985.2 270.8,985.2 275.8,985.0C280.8,984.8 285.8,983.9 290.8,983.3C295.8,982.6 300.8,981.0 305.8,981.2C310.8,981.5 315.8,984.0 320.8,984.7C325.8,985.5 330.8,985.7 335.8,985.8C340.8,985.8 345.8,985.8 350.8,985.0C355.8,984.2 360.8,981.8 365.8,981.0C370.8,980.2 375.8,980.4 380.8,980.2C385.8,979.9 390.8,979.7 395.8,979.5C400.8,979.3 405.8,978.9 410.8,978.8C415.8,978.7 420.8,978.9 425.8,979.0C430.8,979.0 435.8,979.0 440.8,979.2C445.8,979.4 450.8,980.0 455.8,980.0C460.8,980.0 465.8,979.1 470.8,979.0C475.8,978.8 480.8,978.6 485.8,979.0C490.8,979.3 495.8,980.6 500.8,981.0C505.8,981.3 510.8,981.1 515.8,981.0C520.8,980.9 525.8,980.6 530.8,980.5C535.8,980.3 540.8,980.4 545.8,980.2C550.8,980.0 555.8,979.6 560.8,979.5C565.8,979.3 573.3,979.3 575.8,979.2" fill="none" stroke="#4472c4" stroke-width="2.0" stroke-linecap="round" stroke-linejoin="round"/><path d="M50.8,862.0C53.3,860.8 60.8,857.2 65.8,854.6C70.8,852.0 75.8,845.8 80.8,846.3C85.8,846.8 90.8,856.4 95.8,857.4C100.8,858.5 105.8,851.6 110.8,852.6C115.8,853.6 120.8,860.2 125.8,863.2C130.8,866.2 135.8,870.6 140.8,870.8C145.8,871.0 150.8,865.2 155.8,864.5C160.8,863.7 165.8,865.4 170.8,866.0C175.8,866.6 180.8,869.5 185.8,868.0C190.8,866.6 195.8,856.2 200.8,857.2C205.8,858.1 210.8,869.6 215.8,873.8C220.8,878.1 225.8,882.4 230.8,882.6C235.8,882.9 240.8,875.0 245.8,875.3C250.8,875.7 255.8,887.1 260.8,884.6C265.8,882.1 270.8,861.8 275.8,860.2C280.8,858.6 285.8,874.2 290.8,875.1C295.8,875.9 300.8,867.0 305.8,865.2C310.8,863.5 315.8,866.7 320.8,864.7C325.8,862.7 330.8,854.8 335.8,853.1C340.8,851.5 345.8,853.5 350.8,854.6C355.8,855.8 360.8,859.7 365.8,860.2C370.8,860.6 375.8,856.5 380.8,857.2C385.8,857.8 390.8,864.4 395.8,864.0C400.8,863.6 405.8,855.6 410.8,854.8C415.8,853.9 420.8,858.9 425.8,858.7C430.8,858.4 435.8,855.6 440.8,853.1C445.8,850.6 450.8,845.5 455.8,843.6C460.8,841.6 465.8,842.1 470.8,841.3C475.8,840.5 480.8,840.1 485.8,839.0C490.8,838.0 495.8,834.1 500.8,835.0C505.8,835.9 510.8,846.2 515.8,844.3C520.8,842.4 525.8,824.0 530.8,823.6C535.8,823.2 540.8,841.3 545.8,841.8C550.8,842.3 555.8,826.7 560.8,826.7C565.8,826.7 573.3,839.3 575.8,841.8" fill="none" stroke="#843c0c" stroke-width="2.2" stroke-linecap="round" stroke-linejoin="round"/><path d="M50.8,1002.6C53.3,1003.0 60.8,1004.4 65.8,1004.9C70.8,1005.4 75.8,1005.6 80.8,1005.7C85.8,1005.8 90.8,1005.7 95.8,1005.7C100.8,1005.7 105.8,1005.7 110.8,1005.7C115.8,1005.7 120.8,1005.7 125.8,1005.7C130.8,1005.7 135.8,1005.3 140.8,1005.7C145.8,1006.1 150.8,1007.7 155.8,1008.2C160.8,1008.7 165.8,1008.6 170.8,1008.7C175.8,1008.8 180.8,1008.7 185.8,1008.7C190.8,1008.7 195.8,1008.8 200.8,1008.7C205.8,1008.6 210.8,1008.4 215.8,1008.2C220.8,1008.1 225.8,1007.8 230.8,1007.7C235.8,1007.7 240.8,1007.9 245.8,1008.0C250.8,1008.1 255.8,1008.1 260.8,1008.2C265.8,1008.4 270.8,1008.5 275.8,1008.7C280.8,1008.9 285.8,1008.8 290.8,1009.2C295.8,1009.6 300.8,1010.7 305.8,1011.0C310.8,1011.2 315.8,1010.8 320.8,1010.7C325.8,1010.7 330.8,1010.7 335.8,1010.7C340.8,1010.7 345.8,1010.7 350.8,1010.7C355.8,1010.7 360.8,1010.7 365.8,1010.7C370.8,1010.7 375.8,1010.7 380.8,1010.7C385.8,1010.7 390.8,1010.7 395.8,1010.7C400.8,1010.7 405.8,1010.6 410.8,1010.5C415.8,1010.4 420.8,1010.3 425.8,1010.3C430.8,1010.2 435.8,1010.3 440.8,1010.3C445.8,1010.2 450.8,1010.0 455.8,1010.0C460.8,1009.9 465.8,1010.2 470.8,1010.0C475.8,1009.7 480.8,1008.7 485.8,1008.5C490.8,1008.3 495.8,1008.7 500.8,1008.7C505.8,1008.7 510.8,1008.7 515.8,1008.7C520.8,1008.7 525.8,1008.7 530.8,1008.7C535.8,1008.7 540.8,1008.4 545.8,1008.7C550.8,1009.0 555.8,1010.2 560.8,1010.5C565.8,1010.8 573.3,1010.7 575.8,1010.7" fill="none" stroke="#375623" stroke-width="2.0" stroke-linecap="round" stroke-linejoin="round"/><path d="M50.8,1000.2C53.3,1000.3 60.8,1000.7 65.8,1000.9C70.8,1001.0 75.8,1001.4 80.8,1001.1C85.8,1000.9 90.8,999.8 95.8,999.6C100.8,999.5 105.8,1000.5 110.8,1000.2C115.8,999.9 120.8,998.1 125.8,997.9C130.8,997.7 135.8,998.6 140.8,999.1C145.8,999.7 150.8,1000.6 155.8,1001.1C160.8,1001.7 165.8,1002.1 170.8,1002.4C175.8,1002.8 180.8,1003.2 185.8,1003.2C190.8,1003.2 195.8,1002.4 200.8,1002.4C205.8,1002.4 210.8,1003.0 215.8,1003.2C220.8,1003.3 225.8,1003.2 230.8,1003.2C235.8,1003.2 240.8,1003.3 245.8,1003.2C250.8,1003.0 255.8,1002.7 260.8,1002.4C265.8,1002.2 270.8,1001.8 275.8,1001.7C280.8,1001.5 285.8,1001.6 290.8,1001.4C295.8,1001.2 300.8,1000.6 305.8,1000.6C310.8,1000.7 315.8,1001.8 320.8,1001.7C325.8,1001.5 330.8,1000.0 335.8,999.9C340.8,999.8 345.8,1000.7 350.8,1001.1C355.8,1001.6 360.8,1002.6 365.8,1002.6C370.8,1002.7 375.8,1001.8 380.8,1001.7C385.8,1001.5 390.8,1001.9 395.8,1001.9C400.8,1001.9 405.8,1002.4 410.8,1001.5C415.8,1000.6 420.8,996.7 425.8,996.6C430.8,996.4 435.8,999.9 440.8,1000.6C445.8,1001.4 450.8,1000.9 455.8,1001.1C460.8,1001.4 465.8,1002.1 470.8,1001.9C475.8,1001.8 480.8,1000.2 485.8,1000.2C490.8,1000.2 495.8,1002.0 500.8,1001.9C505.8,1001.9 510.8,1000.9 515.8,999.9C520.8,998.9 525.8,996.4 530.8,996.1C535.8,995.9 540.8,997.7 545.8,998.4C550.8,999.1 555.8,999.5 560.8,1000.2C565.8,1000.9 573.3,1002.2 575.8,1002.6" fill="none" stroke="#ffff00" stroke-width="2.0" stroke-linecap="round" stroke-linejoin="round"/><line x1="53.5" x2="71.5" y1="786.7" y2="786.7" stroke="#4472c4" stroke-width="2" stroke-linecap="round"/><text x="73.0" y="789.7" font-family="'Liberation Sans', Arial, sans-serif" font-size="8.6" font-weight="normal" fill="#000" text-anchor="start" textLength="169.0" lengthAdjust="spacingAndGlyphs" >Coconut Shell Charcoal (Indonesia, Domestic)</text><line x1="53.5" x2="71.5" y1="799.8" y2="799.8" stroke="#843c0c" stroke-width="2" stroke-linecap="round"/><text x="73.0" y="802.8" font-family="'Liberation Sans', Arial, sans-serif" font-size="8.6" font-weight="normal" fill="#000" text-anchor="start" textLength="105.0" lengthAdjust="spacingAndGlyphs" >Activated Carbon (Sri Lanka)</text><line x1="53.5" x2="71.5" y1="813.0" y2="813.0" stroke="#375623" stroke-width="2" stroke-linecap="round"/><text x="73.0" y="816.0" font-family="'Liberation Sans', Arial, sans-serif" font-size="8.6" font-weight="normal" fill="#000" text-anchor="start" textLength="159.5" lengthAdjust="spacingAndGlyphs" >Coir Fibre (Sri Lanka, Mattress/Short Fibre)</text><line x1="53.5" x2="71.5" y1="826.2" y2="826.2" stroke="#ffff00" stroke-width="2" stroke-linecap="round"/><text x="73.0" y="829.2" font-family="'Liberation Sans', Arial, sans-serif" font-size="8.6" font-weight="normal" fill="#000" text-anchor="start" textLength="72.5" lengthAdjust="spacingAndGlyphs" >Coir Pith (Sri Lanka)</text></svg><div class="panel" style="background:#e5e5e7;left:596px;top:385.3px;width:193.7px;height:256.3px"></div><svg width="197" height="257" viewBox="596 385 197 257" style="position:absolute;left:596px;top:385px;overflow:visible" ><text x="605.9" y="405.1" font-family="'Liberation Sans', Arial, sans-serif" font-size="19" font-weight="bold" fill="#1f3d8a" text-anchor="start" textLength="174.8" lengthAdjust="spacingAndGlyphs" >Global Export Value, 2021</text><path d="M689.60,444.40 A62.1,62.1 0 0 1 736.66,547.02 L720.67,533.26 A41,41 0 0 0 689.60,465.50Z" fill="#ffff00" stroke="#e6e6e6" stroke-width="0.9" stroke-linejoin="round"/><path d="M736.66,547.02 A62.1,62.1 0 0 1 627.89,499.52 L648.86,501.89 A41,41 0 0 0 720.67,533.26Z" fill="#cdf0ff" stroke="#e6e6e6" stroke-width="0.9" stroke-linejoin="round"/><path d="M627.89,499.52 A62.1,62.1 0 0 1 683.05,444.75 L685.27,465.73 A41,41 0 0 0 648.86,501.89Z" fill="#7f6000" stroke="#e6e6e6" stroke-width="0.9" stroke-linejoin="round"/><path d="M683.05,444.75 A62.1,62.1 0 0 1 689.60,444.40 L689.60,465.50 A41,41 0 0 0 685.27,465.73Z" fill="#ffd966" stroke="#e6e6e6" stroke-width="0.9" stroke-linejoin="round"/><defs><radialGradient id="cocg" cx="0.45" cy="0.4" r="0.65"><stop offset="0" stop-color="#d29c5e"/><stop offset="0.7" stop-color="#c48d50"/><stop offset="1" stop-color="#a87238"/></radialGradient><radialGradient id="flg" cx="0.5" cy="0.35" r="0.7"><stop offset="0" stop-color="#ffffff"/><stop offset="0.7" stop-color="#f4f5f8"/><stop offset="1" stop-color="#dfe2ea"/></radialGradient></defs><path d="M676.4,476.3C680.5,474.6 686.9,473.7 691.4,473.5C695.9,473.2 699.4,472.2 703.5,474.7C707.5,477.2 713.0,483.3 715.8,488.4C718.5,493.5 720.0,499.3 720.0,505.6C720.1,511.8 719.7,520.3 716.1,526.1C712.4,532.0 703.1,539.3 698.0,540.9C692.9,542.4 689.9,536.7 685.3,535.6C680.8,534.5 675.2,537.4 670.7,534.4C666.1,531.4 660.0,523.8 658.1,517.9C656.1,511.9 657.6,504.2 659.1,498.5C660.6,492.8 664.3,487.3 667.2,483.6C670.0,479.9 672.4,478.0 676.4,476.3Z" fill="#2a1c14"/><path d="M675.2,476.1C679.3,474.4 685.8,473.4 690.4,473.1C694.9,472.8 698.4,471.8 702.5,474.3C706.5,476.8 711.8,483.0 714.6,488.2C717.3,493.4 718.7,499.1 718.8,505.4C718.9,511.6 718.6,519.7 715.1,525.5C711.5,531.3 702.4,538.6 697.4,540.2C692.5,541.7 689.8,535.9 685.3,534.8C680.8,533.7 674.9,536.5 670.2,533.6C665.5,530.7 659.3,523.3 657.3,517.5C655.2,511.6 656.6,504.0 658.1,498.3C659.6,492.6 663.3,486.9 666.1,483.2C669.0,479.5 671.2,477.8 675.2,476.1Z" fill="url(#cocg)"/><path d="M657.3,517.5C657.3,516.1 664.7,523.5 670.2,525.5C675.7,527.5 683.6,530.2 690.4,529.6C697.1,528.9 706.2,524.4 710.5,521.5C714.9,518.6 715.8,511.7 716.6,512.4C717.3,513.1 718.3,520.9 715.1,525.5C711.9,530.2 702.4,538.6 697.4,540.2C692.5,541.7 689.8,535.9 685.3,534.8C680.8,533.7 674.9,536.5 670.2,533.6C665.5,530.7 657.3,518.8 657.3,517.5Z" fill="#b07c42" opacity=".75"/><path d="M664.3,507.4C666.1,503.4 671.6,493.3 675.7,489.7C679.9,486.2 684.8,485.6 689.3,486.0C693.9,486.3 699.5,488.8 703.0,491.7C706.5,494.6 709.6,499.6 710.3,503.3C711.0,507.1 710.4,510.7 707.1,514.0C703.8,517.4 696.0,522.1 690.4,523.3C684.7,524.5 677.2,522.7 673.0,521.1C668.8,519.5 666.8,516.1 665.3,513.8C663.9,511.5 662.6,511.4 664.3,507.4Z" fill="#5b403a"/><path d="M665.3,507.4C667.0,503.6 672.4,494.1 676.4,490.7C680.4,487.3 685.0,486.7 689.3,487.0C693.6,487.3 698.9,489.9 702.3,492.6C705.6,495.4 708.7,500.1 709.3,503.5C710.0,507.0 709.4,510.1 706.2,513.2C703.0,516.3 695.8,521.0 690.4,522.1C684.9,523.2 677.6,521.5 673.6,520.1C669.6,518.6 667.7,515.5 666.3,513.4C665.0,511.3 663.7,511.2 665.3,507.4Z" fill="url(#flg)"/><line x1="720.2" y1="479.6" x2="705.3" y2="494.0" stroke="#f2e600" stroke-width="1.1"/><line x1="661.1" y1="477.1" x2="676.0" y2="490.8" stroke="#7f6000" stroke-width="1.1"/><line x1="681.7" y1="546.7" x2="685.9" y2="513.9" stroke="#bfe6f7" stroke-width="1.1"/><line x1="686.7" y1="444.8" x2="689.2" y2="478.4" stroke="#ffd966" stroke-width="1.1"/><text x="661.8" y="439.4" font-family="'DejaVu Sans', 'Liberation Sans', sans-serif" font-size="7.2" font-weight="normal" fill="#222" text-anchor="start" textLength="55.9" lengthAdjust="spacingAndGlyphs" >US$ 0.19 billion</text><text x="731.9" y="462.3" font-family="'DejaVu Sans', 'Liberation Sans', sans-serif" font-size="7.2" font-weight="normal" fill="#222" text-anchor="start" textLength="55.9" lengthAdjust="spacingAndGlyphs" >US$ 4.10 billion</text><text x="607.2" y="460.5" font-family="'DejaVu Sans', 'Liberation Sans', sans-serif" font-size="7.2" font-weight="normal" fill="#222" text-anchor="start" textLength="31.5" lengthAdjust="spacingAndGlyphs" >US$ 2.43</text><text x="616.4" y="469.7" font-family="'DejaVu Sans', 'Liberation Sans', sans-serif" font-size="7.2" font-weight="normal" fill="#222" text-anchor="start" textLength="22.3" lengthAdjust="spacingAndGlyphs" >billion</text><text x="598.0" y="565.9" font-family="'DejaVu Sans', 'Liberation Sans', sans-serif" font-size="7.2" font-weight="normal" fill="#222" text-anchor="start" textLength="56.4" lengthAdjust="spacingAndGlyphs" >US$ 4.57 billion</text><text x="603.3" y="613.5" font-family="'Liberation Sans', Arial, sans-serif" font-size="14.6" font-weight="bold" fill="#6d6e71" text-anchor="start" textLength="180.0" lengthAdjust="spacingAndGlyphs" >Total Export Value: USD 13.18 billion</text><text x="602.8" y="637.2" font-family="'Liberation Sans', Arial, sans-serif" font-size="7.2" font-weight="bold" fill="#6d6e71" text-anchor="start" textLength="48.6" lengthAdjust="spacingAndGlyphs" >Source: ICC &amp; ITC</text></svg><div class="panel" style="background:#e5e5e7;left:596px;top:643.8px;width:193.7px;height:230.6px"></div><svg width="197" height="233" viewBox="596 643 197 233" style="position:absolute;left:596px;top:643px;overflow:visible" ><text x="605.9" y="662.5" font-family="'Liberation Sans', Arial, sans-serif" font-size="19" font-weight="bold" fill="#1f3d8a" text-anchor="start" textLength="175.6" lengthAdjust="spacingAndGlyphs" >Global Export Volume, 2021</text><defs><clipPath id="cc"><circle cx="397" cy="412" r="341"/></clipPath></defs><g transform="translate(655,705) scale(0.09584)"><g clip-path="url(#cc)"><rect x="40" y="60" width="720" height="720" fill="#e7e7e7"/><path d="M240,120 l90,-20 l80,30 l-30,70 l-110,30 l-60,-50z" fill="#f1f1f1"/><path d="M440,110 l120,10 l70,60 l-40,90 l-100,20 l-60,-90z" fill="#dcdcdc"/><path d="M120,240 l70,20 l10,90 l-90,40z" fill="#f0f0f0"/><path d="M500,250 l90,-10 l40,70 l-80,50z" fill="#f0f0f0"/><path d="M630,400 L655,310 L700,270 L715,420Z" fill="#58a254"/><path d="M700,300 L740,320 L740,420 L705,420Z" fill="#6ec1ea"/><path d="M70,452 L470,440 L480,505 L80,505Z" fill="#c5c9d6"/><path d="M70,452 L470,440 L470,462 L72,472Z" fill="#dfe1e8"/><path d="M78,500 L475,498 L560,555 L690,600 L650,665 L520,725 L270,715 L140,620Z" fill="#131d66"/><path d="M78,500 L475,498 L520,530 L90,528Z" fill="#1d2a7a"/><path d="M240,700 L560,690 L500,745 L300,745Z" fill="#8c3b2c"/><path d="M290,610 l30,-10 l15,30 l-20,60 l-25,-5z" fill="#0a0d2a"/><rect x="402" y="228" width="40" height="185" fill="#efdfae"/><rect x="410" y="290" width="22" height="40" fill="#8a7a5a"/><path d="M210,300 L432,352 L428,385 L208,330Z" fill="#f5ead0"/><path d="M432,232 L250,300 L252,306 L432,242Z" fill="#9aa6c8"/><path d="M222,310 L245,310 L250,450 L225,450Z" fill="#ecd9a2"/><path d="M222,330 L195,445 L205,447 L232,335Z" fill="#ecd9a2"/><path d="M245,330 L275,440 L266,443 L238,335Z" fill="#ecd9a2"/><rect x="657" y="290" width="38" height="115" fill="#e9d9a8"/><rect x="663" y="330" width="22" height="30" fill="#6d6048"/><path d="M545,355 L690,388 L688,410 L545,378Z" fill="#f3e6c4"/><rect x="300" y="424" width="72" height="18" fill="#c4452c"/><rect x="428" y="418" width="62" height="30" fill="#86bde9"/><path d="M490,432 L640,428 L645,462 L492,466Z" fill="#efa566"/><path d="M560,440 L722,438 L722,575 L585,575 L560,520Z" fill="#e26d3a"/><path d="M470,480 L565,470 L585,575 L540,560 L480,510Z" fill="#c9512e"/><path d="M610,445 L616,570 M665,445 L668,572" stroke="#b8502c" stroke-width="6" fill="none"/></g></g><path d="M717.90,683.12 A66.2,66.2 0 0 1 750.02,778.30 L721.22,761.20 A32.7,32.7 0 0 0 705.35,714.18Z" fill="#ffff00" stroke="#fff" stroke-width="0.7" stroke-linejoin="round"/><path d="M750.02,778.30 A66.2,66.2 0 0 1 678.07,808.97 L685.67,776.35 A32.7,32.7 0 0 0 721.22,761.20Z" fill="#1f4e79" stroke="#fff" stroke-width="0.7" stroke-linejoin="round"/><path d="M678.07,808.97 A66.2,66.2 0 0 1 635.04,776.30 L664.42,760.21 A32.7,32.7 0 0 0 685.67,776.35Z" fill="#70ad47" stroke="#fff" stroke-width="0.7" stroke-linejoin="round"/><path d="M635.04,776.30 A66.2,66.2 0 0 1 627.00,740.91 L660.45,742.73 A32.7,32.7 0 0 0 664.42,760.21Z" fill="#ff00ff" stroke="#fff" stroke-width="0.7" stroke-linejoin="round"/><path d="M627.00,740.91 A66.2,66.2 0 0 1 636.27,710.54 L665.03,727.72 A32.7,32.7 0 0 0 660.45,742.73Z" fill="#7f7f7f" stroke="#fff" stroke-width="0.7" stroke-linejoin="round"/><path d="M636.27,710.54 A66.2,66.2 0 0 1 656.52,689.32 L675.03,717.25 A32.7,32.7 0 0 0 665.03,727.72Z" fill="#0a0a0a" stroke="#fff" stroke-width="0.7" stroke-linejoin="round"/><path d="M656.52,689.32 A66.2,66.2 0 0 1 683.53,678.99 L688.37,712.14 A32.7,32.7 0 0 0 675.03,717.25Z" fill="#843c0c" stroke="#fff" stroke-width="0.7" stroke-linejoin="round"/><path d="M683.50,678.00 A66.2,66.2 0 0 1 697.60,677.46 L695.30,710.88 A32.7,32.7 0 0 0 688.34,711.14Z" fill="#ff0000" stroke="#fff" stroke-width="0.7" stroke-linejoin="round"/><path d="M698.83,670.55 A66.2,66.2 0 0 1 709.51,672.16 L701.81,704.77 A32.7,32.7 0 0 0 696.54,703.97Z" fill="#00ff00" stroke="#fff" stroke-width="0.7" stroke-linejoin="round"/><path d="M710.54,672.39 A66.2,66.2 0 0 1 716.89,674.23 L705.98,705.90 A32.7,32.7 0 0 0 702.84,704.99Z" fill="#8faadc" stroke="#fff" stroke-width="0.7" stroke-linejoin="round"/><path d="M717.11,675.35 A66.2,66.2 0 0 1 720.27,676.53 L707.76,707.61 A32.7,32.7 0 0 0 706.20,707.03Z" fill="#bf9000" stroke="#fff" stroke-width="0.7" stroke-linejoin="round"/><text x="740.4" y="730.6" font-family="'Liberation Sans', Arial, sans-serif" font-size="6.6" font-weight="bold" fill="#3b5a8a" text-anchor="middle" textLength="21.5" lengthAdjust="spacingAndGlyphs" >27.42%</text><text x="712.3" y="792.1" font-family="'Liberation Sans', Arial, sans-serif" font-size="6.6" font-weight="bold" fill="#fff" text-anchor="middle" textLength="21.5" lengthAdjust="spacingAndGlyphs" >20.12%</text><text x="663.0" y="786.0" font-family="'Liberation Sans', Arial, sans-serif" font-size="6.6" font-weight="bold" fill="#fff" text-anchor="middle" textLength="21.5" lengthAdjust="spacingAndGlyphs" >13.38%</text><text x="644.7" y="757.2" font-family="'Liberation Sans', Arial, sans-serif" font-size="6.6" font-weight="bold" fill="#fff" text-anchor="middle" textLength="18.0" lengthAdjust="spacingAndGlyphs" >8.84%</text><text x="645.7" y="731.7" font-family="'Liberation Sans', Arial, sans-serif" font-size="6.6" font-weight="bold" fill="#fff" text-anchor="middle" textLength="18.0" lengthAdjust="spacingAndGlyphs" >7.71%</text><text x="657.1" y="712.3" font-family="'Liberation Sans', Arial, sans-serif" font-size="6.6" font-weight="bold" fill="#fff" text-anchor="middle" textLength="18.0" lengthAdjust="spacingAndGlyphs" >7.11%</text><text x="675.6" y="700.5" font-family="'Liberation Sans', Arial, sans-serif" font-size="6.6" font-weight="bold" fill="#fff" text-anchor="middle" textLength="18.0" lengthAdjust="spacingAndGlyphs" >7.01%</text><text x="692.2" y="695.0" font-family="'Liberation Sans', Arial, sans-serif" font-size="6.6" font-weight="bold" fill="#fff" text-anchor="middle" textLength="18.0" lengthAdjust="spacingAndGlyphs" transform="rotate(-90 692.2 695.0)" dominant-baseline="central">3.40%</text><text x="702.6" y="687.5" font-family="'Liberation Sans', Arial, sans-serif" font-size="6.6" font-weight="bold" fill="#2f5597" text-anchor="middle" textLength="18.0" lengthAdjust="spacingAndGlyphs" transform="rotate(-81 702.6 687.5)" dominant-baseline="central">2.60%</text><text x="732.3" y="672.6" font-family="'Liberation Sans', Arial, sans-serif" font-size="6.6" font-weight="bold" fill="#4472c4" text-anchor="middle" textLength="18.0" lengthAdjust="spacingAndGlyphs" >1.59%</text><text x="754.6" y="681.9" font-family="'Liberation Sans', Arial, sans-serif" font-size="6.6" font-weight="bold" fill="#4472c4" text-anchor="middle" textLength="18.0" lengthAdjust="spacingAndGlyphs" >0.81%</text><polyline points="715.1,677.3 719.2,671.1 722.4,670.4" fill="none" stroke="#a6a6a6" stroke-width="0.6"/><polyline points="714.4,689.1 744.9,678.7" fill="none" stroke="#a6a6a6" stroke-width="0.6"/><rect x="614.8" y="813.7" width="3.4" height="3.4" fill="#ffff00"/><text x="620.7" y="817.6" font-family="'Liberation Sans', Arial, sans-serif" font-size="6.4" font-weight="normal" fill="#595959" text-anchor="start" textLength="31.3" lengthAdjust="spacingAndGlyphs" >Coconut Oil</text><rect x="614.8" y="821.1" width="3.4" height="3.4" fill="#70ad47"/><text x="620.7" y="825.0" font-family="'Liberation Sans', Arial, sans-serif" font-size="6.4" font-weight="normal" fill="#595959" text-anchor="start" textLength="46.1" lengthAdjust="spacingAndGlyphs" >Activated Carbon</text><rect x="614.8" y="828.5" width="3.4" height="3.4" fill="#7f7f7f"/><text x="620.7" y="832.4" font-family="'Liberation Sans', Arial, sans-serif" font-size="6.4" font-weight="normal" fill="#595959" text-anchor="start" textLength="31.3" lengthAdjust="spacingAndGlyphs" >Copra Meal</text><rect x="614.8" y="835.9" width="3.4" height="3.4" fill="#843c0c"/><text x="620.7" y="839.8" font-family="'Liberation Sans', Arial, sans-serif" font-size="6.4" font-weight="normal" fill="#595959" text-anchor="start" textLength="58.9" lengthAdjust="spacingAndGlyphs" >Coconut Milk/Powder</text><rect x="614.8" y="843.6" width="3.4" height="3.4" fill="#00ff00"/><text x="620.7" y="847.5" font-family="'Liberation Sans', Arial, sans-serif" font-size="6.4" font-weight="normal" fill="#595959" text-anchor="start" textLength="40.5" lengthAdjust="spacingAndGlyphs" >Coconut Water</text><rect x="614.8" y="851.0" width="3.4" height="3.4" fill="#bf9000"/><text x="620.7" y="854.9" font-family="'Liberation Sans', Arial, sans-serif" font-size="6.4" font-weight="normal" fill="#595959" text-anchor="start" textLength="36.3" lengthAdjust="spacingAndGlyphs" >Coir Products</text><rect x="705.1" y="813.7" width="3.4" height="3.4" fill="#1f4e79"/><text x="710.8" y="817.6" font-family="'Liberation Sans', Arial, sans-serif" font-size="6.4" font-weight="normal" fill="#595959" text-anchor="start" textLength="75.1" lengthAdjust="spacingAndGlyphs" >Fresh/Dried/Young Coconut</text><rect x="705.1" y="821.1" width="3.4" height="3.4" fill="#ff00ff"/><text x="710.8" y="825.0" font-family="'Liberation Sans', Arial, sans-serif" font-size="6.4" font-weight="normal" fill="#595959" text-anchor="start" textLength="38.4" lengthAdjust="spacingAndGlyphs" >Coconut Sugar</text><rect x="705.1" y="828.5" width="3.4" height="3.4" fill="#0a0a0a"/><text x="710.8" y="832.4" font-family="'Liberation Sans', Arial, sans-serif" font-size="6.4" font-weight="normal" fill="#595959" text-anchor="start" textLength="52.8" lengthAdjust="spacingAndGlyphs" >Desiccated Coconut</text><rect x="705.1" y="835.9" width="3.4" height="3.4" fill="#ff0000"/><text x="710.8" y="839.8" font-family="'Liberation Sans', Arial, sans-serif" font-size="6.4" font-weight="normal" fill="#595959" text-anchor="start" textLength="61.5" lengthAdjust="spacingAndGlyphs" >Coconut Shell Charcoal</text><rect x="705.1" y="843.6" width="3.4" height="3.4" fill="#8faadc"/><text x="710.8" y="847.5" font-family="'Liberation Sans', Arial, sans-serif" font-size="6.4" font-weight="normal" fill="#595959" text-anchor="start" textLength="14.9" lengthAdjust="spacingAndGlyphs" >Copra</text><text x="597.2" y="869.6" font-family="'Liberation Sans', Arial, sans-serif" font-size="7.2" font-weight="bold" fill="#6d6e71" text-anchor="start" textLength="48.6" lengthAdjust="spacingAndGlyphs" >Source: ICC &amp; ITC</text></svg><div class="panel" style="background:#e5e5e7;left:596px;top:877.2px;width:193.7px;height:212.6px"></div><div class="abs" style="left:598.2px;top:921.2px;width:191.5px;height:28.3px;background:#375623"></div><div class="abs" style="left:598.2px;top:949.4px;width:122.5px;height:113.2px;background:#548235"></div><div class="abs" style="left:720.6px;top:949.4px;width:69.1px;height:113.2px;background:#c5e0b4"></div><svg width="197" height="213" viewBox="596 877 197 213" style="position:absolute;left:596px;top:877px;overflow:visible" ><text x="611.8" y="892.6" font-family="'Liberation Sans', Arial, sans-serif" font-size="15.6" font-weight="bold" fill="#1f3d8a" text-anchor="start" textLength="163.0" lengthAdjust="spacingAndGlyphs" >Global Production of Coconut</text><text x="625.0" y="911.2" font-family="'Liberation Sans', Arial, sans-serif" font-size="15.6" font-weight="bold" fill="#1f3d8a" text-anchor="start" textLength="137.0" lengthAdjust="spacingAndGlyphs" >Products, 2021 (‘000 MT)</text><text x="642.5" y="939.9" font-family="'Liberation Sans', Arial, sans-serif" font-size="11.2" font-weight="bold" fill="#fff" text-anchor="start" textLength="35.1" lengthAdjust="spacingAndGlyphs" >Products</text><text x="730.0" y="939.9" font-family="'Liberation Sans', Arial, sans-serif" font-size="11.2" font-weight="bold" fill="#fff" text-anchor="start" textLength="50.7" lengthAdjust="spacingAndGlyphs" >Vol (‘000 MT)</text><text x="599.7" y="964.3" font-family="'Liberation Sans', Arial, sans-serif" font-size="11.8" font-weight="bold" fill="#fff" text-anchor="start" textLength="23.1" lengthAdjust="spacingAndGlyphs" >Copra</text><text x="764.1" y="964.3" font-family="'Liberation Sans', Arial, sans-serif" font-size="11.8" font-weight="bold" fill="#111" text-anchor="start" textLength="19.2" lengthAdjust="spacingAndGlyphs" >5,156</text><text x="599.7" y="983.0" font-family="'Liberation Sans', Arial, sans-serif" font-size="11.8" font-weight="bold" fill="#fff" text-anchor="start" textLength="44.6" lengthAdjust="spacingAndGlyphs" >Coconut Oil</text><text x="762.0" y="983.0" font-family="'Liberation Sans', Arial, sans-serif" font-size="11.8" font-weight="bold" fill="#111" text-anchor="start" textLength="21.3" lengthAdjust="spacingAndGlyphs" >2,842</text><text x="599.7" y="1001.4" font-family="'Liberation Sans', Arial, sans-serif" font-size="11.8" font-weight="bold" fill="#fff" text-anchor="start" textLength="43.3" lengthAdjust="spacingAndGlyphs" >Copra Meal</text><text x="764.1" y="1001.4" font-family="'Liberation Sans', Arial, sans-serif" font-size="11.8" font-weight="bold" fill="#111" text-anchor="start" textLength="19.2" lengthAdjust="spacingAndGlyphs" >1,398</text><text x="599.7" y="1020.1" font-family="'Liberation Sans', Arial, sans-serif" font-size="11.8" font-weight="bold" fill="#fff" text-anchor="start" textLength="78.1" lengthAdjust="spacingAndGlyphs" >Desiccated Coconut</text><text x="769.7" y="1020.1" font-family="'Liberation Sans', Arial, sans-serif" font-size="11.8" font-weight="bold" fill="#111" text-anchor="start" textLength="13.6" lengthAdjust="spacingAndGlyphs" >626</text><text x="599.7" y="1038.6" font-family="'Liberation Sans', Arial, sans-serif" font-size="11.8" font-weight="bold" fill="#fff" text-anchor="start" textLength="50.0" lengthAdjust="spacingAndGlyphs" >Coconut Milk</text><text x="769.7" y="1038.6" font-family="'Liberation Sans', Arial, sans-serif" font-size="11.8" font-weight="bold" fill="#111" text-anchor="start" textLength="13.6" lengthAdjust="spacingAndGlyphs" >883</text><text x="599.7" y="1057.2" font-family="'Liberation Sans', Arial, sans-serif" font-size="11.8" font-weight="bold" fill="#fff" text-anchor="start" textLength="90.9" lengthAdjust="spacingAndGlyphs" >Coconut Shell Charcoal</text><text x="762.0" y="1057.2" font-family="'Liberation Sans', Arial, sans-serif" font-size="11.8" font-weight="bold" fill="#111" text-anchor="start" textLength="21.3" lengthAdjust="spacingAndGlyphs" >2,320</text><text x="650.3" y="1032.0" font-family="'Liberation Sans', Arial, sans-serif" font-size="6.5" font-weight="bold" fill="#fff" text-anchor="start" textLength="5.0" lengthAdjust="spacingAndGlyphs" >*)</text><text x="597.2" y="1070.4" font-family="'Liberation Sans', Arial, sans-serif" font-size="7.2" font-weight="bold" fill="#333" text-anchor="start" textLength="102.8" lengthAdjust="spacingAndGlyphs" >*) Selected Countries refer to Table 14</text><text x="598.4" y="1087.0" font-family="'Liberation Sans', Arial, sans-serif" font-size="7.2" font-weight="bold" fill="#6d6e71" text-anchor="start" textLength="48.4" lengthAdjust="spacingAndGlyphs" >Source: ICC &amp; ITC</text></svg><svg width="793" height="58" viewBox="0 1064 793 58" style="position:absolute;left:0px;top:1064px;overflow:visible" ><line x1="4.5" x2="60" y1="1068.4" y2="1068.4" stroke="#7f7f7f" stroke-width="0.8" stroke-dasharray="2.6,2.2"/><text x="4.2" y="1076.5" font-family="'Liberation Sans', Arial, sans-serif" font-size="5" font-weight="bold" fill="#333" text-anchor="start" textLength="2.0" lengthAdjust="spacingAndGlyphs" >*</text><text x="7.2" y="1079.3" font-family="'Liberation Sans', Arial, sans-serif" font-size="7.4" font-weight="bold" fill="#333" text-anchor="start" textLength="81.0" lengthAdjust="spacingAndGlyphs" >For Philippines and Sri Lanka</text><text x="47.3" y="1093.2" font-family="'Liberation Serif', 'Times New Roman', serif" font-size="13.6" font-weight="normal" fill="#222" text-anchor="start" textLength="230.7" lengthAdjust="spacingAndGlyphs" >Quarterly Bulletin, Vol. I, No. I, June 2022</text><line x1="286.3" x2="746.6" y1="1091.8" y2="1091.8" stroke="#404040" stroke-width="1.8"/></svg>
</body></html>
